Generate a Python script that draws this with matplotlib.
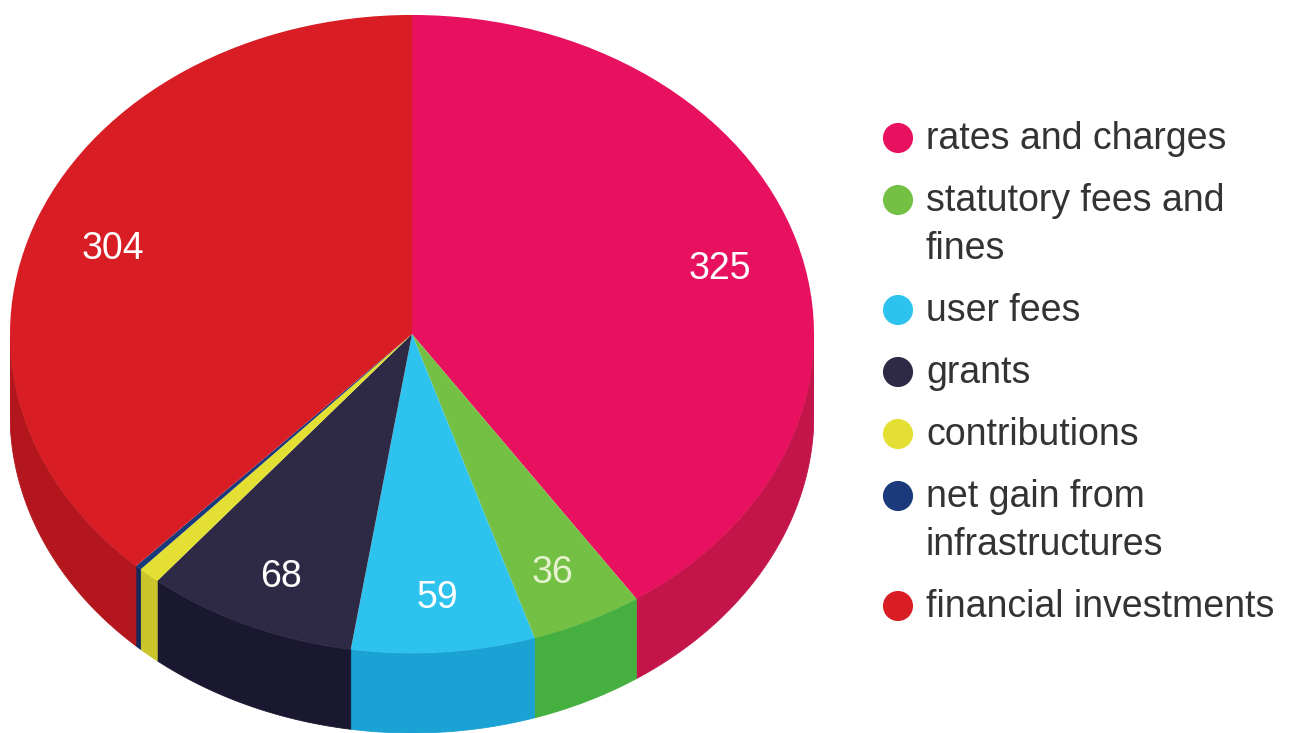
import numpy as np
import matplotlib
matplotlib.use("Agg")
import matplotlib.pyplot as plt
from matplotlib.patches import Polygon

# revenue breakdown, clockwise from 12 o'clock
categories = ["rates and charges", "statutory fees and\nfines", "user fees", "grants",
              "contributions", "net gain from\ninfrastructures", "financial investments"]
values = [325, 36, 59, 68, 7, 2, 304]
top_colors = ["#e8115f", "#73c045", "#2ec3ef", "#2e2a45", "#e4e033", "#1b3a7c", "#d81d25"]
side_colors = ["#c4154a", "#45b040", "#1aa2d4", "#1a1830", "#c9c52a", "#14285a", "#b3161c"]

DEPTH = 0.25  # thickness of the pie, in radius units (vertical)

plt.rcParams['font.family'] = ['Liberation Sans', 'DejaVu Sans']
fig = plt.figure(figsize=(12.95, 7.33), dpi=100)

# pie axes: stretched so the circle becomes an ellipse
ax = fig.add_axes([10 / 1295, 0, 804 / 1295, 1])
total = sum(values)


def show_value(pct):
    v = pct * total / 100
    return f"{v:.0f}" if v >= 10 else ""


wedges, texts, autotexts = ax.pie(
    values, colors=top_colors, startangle=90, counterclock=False,
    autopct=show_value, pctdistance=0.80,
    wedgeprops=dict(linewidth=0),
    textprops=dict(color="white", fontsize=27))
autotexts[1].set_color("#e6f2cf")
# nudge value labels a little down, as in the original
for t in autotexts:
    px, py = t.get_position()
    t.set_position((px, py - 0.03))

# side of the cylinder: only the front half (180..360 deg) is visible
for w, c in zip(wedges, side_colors):
    t1, t2 = w.theta1, w.theta2
    for shift in (-360, 0, 360):
        a = max(t1 + shift, 180)
        b = min(t2 + shift, 360)
        if b > a:
            t = np.radians(np.linspace(a, b, 80))
            x, y = np.cos(t), np.sin(t)
            pts = np.column_stack([np.r_[x, x[::-1]], np.r_[y, y[::-1] - DEPTH]])
            ax.add_patch(Polygon(pts, closed=True, facecolor=c, edgecolor=c,
                                 lw=0.6, zorder=0))

ax.set_aspect('auto')
ax.set_xlim(-1, 1)
ax.set_ylim(-1 - 80 / 320, 1 + 15 / 320)
ax.axis('off')

# legend, drawn in pixel coordinates
lg = fig.add_axes([0, 0, 1, 1])
lg.set_xlim(0, 1295)
lg.set_ylim(733, 0)
lg.axis('off')
lg.patch.set_alpha(0)

y = 139
for name, col in zip(categories, top_colors):
    lg.scatter([898], [y - 1], s=470, color=col, edgecolors='none')
    for i, line in enumerate(name.split("\n")):
        lg.text(926, y + i * 48, line, fontsize=27, color="#333333", va='center', ha='left')
    y += 62 + 48 * name.count("\n")

fig.savefig("out.png", dpi=100)
